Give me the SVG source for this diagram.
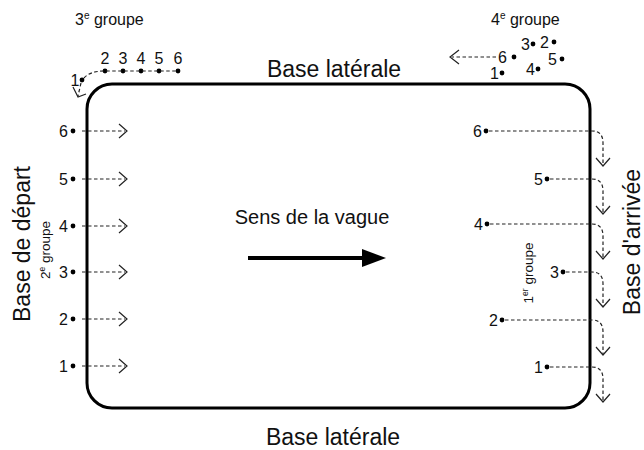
<svg xmlns="http://www.w3.org/2000/svg" width="644" height="450" viewBox="0 0 644 450">
<defs>
<style>
text{font-family:"Liberation Sans",Arial,sans-serif;fill:#111}
.big{font-size:23px}
.mid{font-size:20px}
.grp{font-size:16px}
.sm{font-size:13.5px}
.num{font-size:16px}
.dash{fill:none;stroke:#222;stroke-width:1.2;stroke-dasharray:3.5 2.5}
.chev{fill:none;stroke:#222;stroke-width:1.2}
.dot{fill:#000}
</style>
</defs>
<rect x="87" y="84" width="503" height="324" rx="25" fill="none" stroke="#000" stroke-width="3"/>
<g id="titles">
<text class="big" x="334" y="77" text-anchor="middle">Base latérale</text>
<text class="big" x="333" y="445" text-anchor="middle">Base latérale</text>
<text class="big" text-anchor="middle" transform="translate(30,244) rotate(-90)">Base de départ</text>
<text class="big" text-anchor="middle" transform="translate(640,242) rotate(-90)">Base d'arrivée</text>
<text class="mid" x="312" y="224" text-anchor="middle">Sens de la vague</text>
</g>
<g id="group-labels">
<text class="grp" x="75" y="25">3<tspan font-size="10" dy="-6">e</tspan><tspan dy="6"> groupe</tspan></text>
<text class="grp" x="491" y="25">4<tspan font-size="10" dy="-6">e</tspan><tspan dy="6"> groupe</tspan></text>
<text class="sm" text-anchor="middle" transform="translate(50,250) rotate(-90)">2<tspan font-size="8.5" dy="-5">e</tspan><tspan dy="5"> groupe</tspan></text>
<text class="sm" text-anchor="middle" transform="translate(533,273) rotate(-90)">1<tspan font-size="8.5" dy="-5">er</tspan><tspan dy="5"> groupe</tspan></text>
</g>
<g id="wave-arrow">
<line x1="248" y1="258" x2="366" y2="258" stroke="#000" stroke-width="4"/>
<polygon points="362,249 386,258 362,267" fill="#000"/>
</g>
<g id="group2">
<g class="num" text-anchor="end">
<text x="68" y="137">6</text><text x="68" y="185">5</text><text x="68" y="232">4</text>
<text x="68" y="278">3</text><text x="68" y="325">2</text><text x="68" y="372">1</text>
</g>
<circle class="dot" cx="73" cy="131" r="2.4"/><circle class="dot" cx="73" cy="179" r="2.4"/>
<circle class="dot" cx="73" cy="226" r="2.4"/><circle class="dot" cx="73" cy="272" r="2.4"/>
<circle class="dot" cx="73" cy="319" r="2.4"/><circle class="dot" cx="73" cy="366" r="2.4"/>
</g>
<g id="group1">
<g class="num" text-anchor="end">
<text x="482" y="137">6</text><text x="543" y="185">5</text><text x="483" y="230">4</text>
<text x="559" y="278">3</text><text x="498" y="326">2</text><text x="543" y="373">1</text>
</g>
<circle class="dot" cx="486" cy="131" r="2.4"/><circle class="dot" cx="547" cy="179" r="2.4"/>
<circle class="dot" cx="487" cy="224" r="2.4"/><circle class="dot" cx="563" cy="272" r="2.4"/>
<circle class="dot" cx="502" cy="320" r="2.4"/><circle class="dot" cx="547" cy="367" r="2.4"/>
</g>
<g id="group3">
<g class="num" text-anchor="middle">
<text x="105" y="64">2</text><text x="123" y="64">3</text><text x="141" y="64">4</text>
<text x="159" y="64">5</text><text x="178" y="64">6</text>
<text x="75" y="86">1</text>
</g>
<circle class="dot" cx="82" cy="80" r="2.4"/>
<circle class="dot" cx="105" cy="71" r="2.4"/><circle class="dot" cx="123" cy="71" r="2.4"/>
<circle class="dot" cx="141" cy="71" r="2.4"/><circle class="dot" cx="159" cy="71" r="2.4"/>
<circle class="dot" cx="178" cy="71" r="2.4"/>
</g>
<g id="group4">
<g class="num">
<text x="498" y="63">6</text><text x="521" y="50">3</text><text x="540" y="48">2</text>
<text x="548" y="65">5</text><text x="490" y="79">1</text><text x="526" y="75">4</text>
</g>
<circle class="dot" cx="514" cy="57" r="2.4"/><circle class="dot" cx="533" cy="44" r="2.4"/>
<circle class="dot" cx="554" cy="42" r="2.4"/><circle class="dot" cx="562" cy="59" r="2.4"/>
<circle class="dot" cx="502" cy="73" r="2.4"/><circle class="dot" cx="538" cy="69" r="2.4"/>
</g>
<g id="connectors">
<path class="dash" d="M82,131H125M82,179H125M82,226H125M82,272H125M82,319H125M82,366H125"/>
<path class="chev" d="M119,124L127,131L119,138M119,172L127,179L119,186M119,219L127,226L119,233M119,265L127,272L119,279M119,312L127,319L119,326M119,359L127,366L119,373"/>
<path class="dash" d="M489,131H592Q603,131 603,143V165M550,179H592Q603,179 603,191V213M490,224H592Q603,224 603,236V258M566,272H592Q603,272 603,284V306M505,320H592Q603,320 603,332V354M550,367H592Q603,367 603,379V401"/>
<path class="chev" d="M596,158L603,166L610,158M596,206L603,214L610,206M596,251L603,259L610,251M596,299L603,307L610,299M596,347L603,355L610,347M596,394L603,402L610,394"/>
<path class="dash" d="M84,78Q90,71 105,71H178"/>
<path class="dash" d="M81,83L78,96"/>
<path class="chev" d="M73,87L78,97L86,94"/>
<path class="dash" d="M496,57H452"/>
<path class="chev" d="M459,50L450,57L459,64"/>
</g>
</svg>
